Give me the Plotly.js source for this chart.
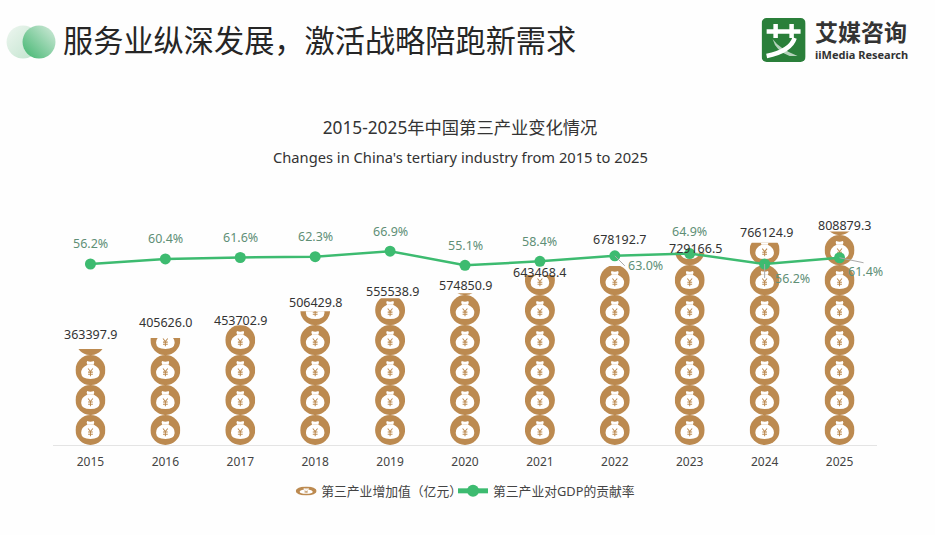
<!DOCTYPE html>
<html><head><meta charset="utf-8">
<script src="https://cdn.plot.ly/plotly-3.0.1.min.js"></script>
<style>html,body{margin:0;padding:0;background:#fff}</style></head>
<body><div id="chart" style="width:935px;height:535px"></div>
<script>
const years = ['2015','2016','2017','2018','2019','2020','2021','2022','2023','2024','2025'];
const addedValue = [363397.9,405626.0,453702.9,506429.8,555538.9,574850.9,643468.4,678192.7,729166.5,766124.9,808879.3];
const contribution = [56.2,60.4,61.6,62.3,66.9,55.1,58.4,63.0,64.9,56.2,61.4];
const unitValue = 113600;
const seriesNames = ['第三产业增加值（亿元）','第三产业对GDP的贡献率'];
const BROWN = '#bc8a50', GREEN = '#3dbb70', LABEL = '#5f8f76', FONT = '"Noto Sans","Noto Sans CJK SC",sans-serif', CJK='"Noto Sans CJK SC","Noto Sans",sans-serif';
// label offsets in pixels from the top of each stack [dx, dy]
const valueLabelShift = [[0,15],[0,15],[0,5],[0,9],[2,7],[0,8],[0,3],[5,26],[6,4],[2,10],[5,5.5]];

function iconSvg(frac){
  const h = 100*frac, y0 = 100-h;
  const body = `<circle cx="50" cy="50" r="50" fill="${BROWN}"/>`+
   `<path d="M39 20 Q50 25 61 20 Q65 25 60 32 Q82 42 81 60 Q80 80 50 80 Q20 80 19 60 Q18 42 40 32 Q35 25 39 20Z" fill="#fff"/>`+
   `<path d="M41 32H59" stroke="${BROWN}" stroke-width="2" opacity=".4"/>`+
   `<path d="M42 45L50 55L58 45M50 55V71M42 57H58M42 64H58" fill="none" stroke="${BROWN}" stroke-width="3.4"/>`;
  const svg = `<svg xmlns="http://www.w3.org/2000/svg" viewBox="0 ${y0} 100 ${h}" preserveAspectRatio="none">${body}</svg>`;
  return 'data:image/svg+xml;charset=utf-8,'+encodeURIComponent(svg);
}
function px(x){return (x-52.5)/825} function py(y){return (445-y)/245}
const images = [];
years.forEach((yr,k)=>{
  const v = addedValue[k];
  for(let i=0; i*unitValue<v; i++){
    const top = Math.min((i+1)*unitValue, v), frac = (top-i*unitValue)/unitValue;
    images.push({source:iconSvg(frac),xref:'x',yref:'y',x:k,y:top,sizex:0.4,sizey:top-i*unitValue,
      xanchor:'center',yanchor:'top',sizing:'stretch',layer:'below'});
  }
});
// legend swatch
images.push({source:iconSvg(1),xref:'paper',yref:'paper',x:px(306),y:py(491),sizex:21/825,sizey:9/245,xanchor:'center',yanchor:'middle',sizing:'stretch',layer:'above'});
// header circles
const circ = 'data:image/svg+xml;charset=utf-8,'+encodeURIComponent(`<svg xmlns="http://www.w3.org/2000/svg" viewBox="0 0 50 34"><defs><linearGradient id="a" x1="0" y1="0" x2="1" y2="1"><stop offset="0" stop-color="#eef6f0"/><stop offset="1" stop-color="#bfe3cc"/></linearGradient><linearGradient id="b" x1="0" y1="1" x2="1" y2="0"><stop offset="0" stop-color="#3fb56e"/><stop offset="1" stop-color="#d4ebdc"/></linearGradient></defs><circle cx="17" cy="17" r="16.5" fill="url(#a)"/><circle cx="33" cy="17" r="16.5" fill="url(#b)"/></svg>`);
const logo = 'data:image/svg+xml;charset=utf-8,'+encodeURIComponent(`<svg xmlns="http://www.w3.org/2000/svg" viewBox="0 0 44 44"><rect width="44" height="44" rx="5" fill="#2a7f3a"/><path d="M5 13.5H39M14 6V20M30 6V20" stroke="#fff" stroke-width="4.5" fill="none"/><path d="M33 20Q29 33 5 38" stroke="#fff" stroke-width="4.5" fill="none"/><path d="M11 21Q18 31 36 38L28 38Q14 33 11 21Z" fill="#fff" opacity=".65"/></svg>`);
images.push({source:circ,xref:'paper',yref:'paper',x:px(5.5),y:py(25),sizex:50/825,sizey:34/245,xanchor:'left',yanchor:'top',sizing:'stretch',layer:'above'});
images.push({source:logo,xref:'paper',yref:'paper',x:px(762),y:py(18),sizex:44/825,sizey:44/245,xanchor:'left',yanchor:'top',sizing:'stretch',layer:'above'});

const ann = [];
function pa(t,x,y,size,color,anchor,family){ann.push({text:t,xref:'paper',yref:'paper',x:px(x),y:py(y),showarrow:false,xanchor:anchor||'center',yanchor:'middle',font:{family:family||FONT,size:size,color:color}})}
pa('服务业纵深发展，激活战略陪跑新需求',61,39.5,30.2,'#262626','left',CJK);
pa('<b>艾媒咨询</b>',813,31,23,'#333','left',CJK);
pa('<b>iiMedia Research</b>',813,54,11,'#333','left');
pa("Changes in China's tertiary industry from 2015 to 2025",460,157,14.7,'#333');
const special = {'2022':[31,10,[10,10]],'2024':[28,15,[0,14]],'2025':[26,14,[24,5]]};
years.forEach((yr,k)=>{
  const s = special[yr];
  ann.push({text:contribution[k].toFixed(1)+'%',xref:'x',yref:'y2',x:k,y:contribution[k],showarrow:false,
    xshift:s?s[0]:0,yshift:s?-s[1]:(yr==='2023'?22:20),font:{family:FONT,size:12.5,color:LABEL}});
  ann.push({text:addedValue[k].toFixed(1),xref:'x',yref:'y',x:k,y:addedValue[k],showarrow:false,yanchor:'middle',
    xshift:valueLabelShift[k][0],yshift:valueLabelShift[k][1],font:{family:FONT,size:12.5,color:'#333'}});
});
const shapes = [];
Object.keys(special).forEach(yr=>{
  const k = years.indexOf(yr), s = special[yr][2];
  shapes.push({type:'line',xref:'x',yref:'y2',xsizemode:'pixel',ysizemode:'pixel',xanchor:k,yanchor:contribution[k],x0:0,y0:0,x1:s[0],y1:-s[1],line:{color:'#aaa',width:1},layer:'above'});
});
const data = [
 {type:'bar',name:seriesNames[0],x:years,y:addedValue,yaxis:'y',marker:{color:'rgba(0,0,0,0)'},width:0.4,legend:'legend',hoverinfo:'x+y'},
 {type:'scatter',mode:'lines+markers',name:seriesNames[1],x:years,y:contribution,yaxis:'y2',legend:'legend2',line:{color:GREEN,width:2.5},marker:{color:GREEN,size:11},cliponaxis:false}
];
const legendBase = {orientation:'h',y:py(491),yanchor:'middle',xanchor:'left',font:{family:FONT,size:12.8,color:'#444'},itemwidth:30,itemsizing:'constant',bgcolor:'rgba(0,0,0,0)'};
const layout = {
 width:935,height:535,paper_bgcolor:'#fefefe',plot_bgcolor:'rgba(0,0,0,0)',
 margin:{l:52.5,r:57.5,t:200,b:90,pad:0},
 font:{family:FONT,color:'#333'},
 title:{text:'2015-2025年中国第三产业变化情况',x:460/935,xanchor:'center',y:1-128/535,yanchor:'middle',font:{family:FONT,size:17.3,color:'#333'}},
 xaxis:{type:'category',range:[-0.5,10.5],showgrid:false,showline:true,linecolor:'#e4e4e4',linewidth:1,ticks:'outside',ticklen:6,tickcolor:'rgba(0,0,0,0)',tickfont:{size:12,color:'#444',family:FONT}},
 yaxis:{range:[0,928000],visible:false,showgrid:false},
 yaxis2:{range:[-94.67,109.53],overlaying:'y',visible:false,showgrid:false},
 showlegend:true,
 legend:Object.assign({x:px(281)},legendBase),
 legend2:Object.assign({x:px(453)},legendBase),
 images:images,annotations:ann,shapes:shapes
};
Plotly.newPlot('chart',data,layout,{displayModeBar:false,responsive:false});
</script></body></html>
